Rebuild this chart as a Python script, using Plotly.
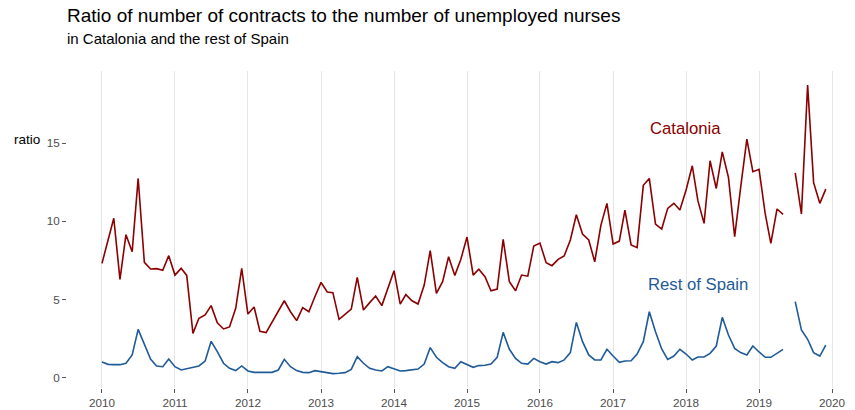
import plotly.graph_objects as go

years = [2010, 2011, 2012, 2013, 2014, 2015, 2016, 2017, 2018, 2019]
months = list(range(1, 13))
dates = [f"{y}-{m:02d}-01" for y in years for m in months]

catalonia = [
    7.32, 8.8, 10.2, 6.3, 9.15, 8.06, 12.74, 7.38, 6.96, 6.98, 6.87, 7.81,
    6.57, 7.0, 6.55, 2.85, 3.81, 4.02, 4.62, 3.53, 3.13, 3.26, 4.45, 7.0,
    4.08, 4.53, 2.98, 2.9, 3.6, 4.23, 4.93, 4.23, 3.66, 4.49, 4.23, 5.19,
    6.1, 5.49, 5.45, 3.74, 4.08, 4.4, 6.42, 4.34, 4.81, 5.23, 4.62, 5.72,
    6.85, 4.72, 5.32, 4.93, 4.72, 5.93, 8.13, 5.4, 6.15, 7.74, 6.55, 7.57,
    9.0, 6.57, 6.94, 6.47, 5.57, 5.68, 8.85, 6.15, 5.57, 6.57, 6.5, 8.42,
    8.61, 7.36, 7.17, 7.57, 7.79, 8.81, 10.42, 9.19, 8.81, 7.42, 9.76, 11.15,
    8.55, 8.74, 10.72, 8.49, 8.32, 12.3, 12.74, 9.83, 9.51, 10.83, 11.15, 10.72,
    12.0, 13.55, 11.32, 9.87, 13.87, 12.1, 14.44, 12.8, 9.02, 12.17, 15.25, 13.17,
    13.32, 10.47, 8.6, 10.79, 10.45, None, 13.1, 10.47, 18.7, 12.47, 11.15, 12.06,
]

rest_of_spain = [
    1.02, 0.87, 0.85, 0.85, 0.94, 1.47, 3.1, 2.1, 1.21, 0.77, 0.72, 1.21,
    0.72, 0.51, 0.6, 0.68, 0.77, 1.08, 2.34, 1.68, 0.94, 0.62, 0.47, 0.77,
    0.45, 0.36, 0.36, 0.36, 0.36, 0.51, 1.19, 0.72, 0.47, 0.36, 0.34, 0.47,
    0.4, 0.3, 0.28, 0.3, 0.34, 0.55, 1.36, 0.94, 0.62, 0.51, 0.45, 0.72,
    0.57, 0.45, 0.47, 0.51, 0.57, 0.89, 1.94, 1.32, 0.98, 0.72, 0.62, 1.04,
    0.87, 0.68, 0.79, 0.81, 0.89, 1.32, 2.91, 1.83, 1.25, 0.94, 0.89, 1.25,
    1.04, 0.89, 1.04, 0.98, 1.15, 1.62, 3.55, 2.32, 1.47, 1.15, 1.15, 1.83,
    1.4, 1.0, 1.08, 1.1, 1.53, 2.32, 4.23, 2.95, 1.85, 1.19, 1.4, 1.83,
    1.53, 1.15, 1.34, 1.34, 1.57, 2.04, 3.87, 2.74, 1.89, 1.62, 1.47, 2.04,
    1.66, 1.32, 1.32, 1.57, 1.83, None, 4.87, 3.06, 2.47, 1.62, 1.4, 2.1,
]

tick_vals = [f"{y}-01-01" for y in range(2010, 2021)]
tick_text = [str(y) for y in range(2010, 2021)]

RED = "#8b0000"
BLUE = "#1f5a99"
FONT = "Liberation Sans, Arial, sans-serif"

fig = go.Figure()
fig.add_trace(go.Scatter(x=dates, y=catalonia, mode="lines", name="Catalonia",
                         line=dict(color=RED, width=1.6), connectgaps=False))
fig.add_trace(go.Scatter(x=dates, y=rest_of_spain, mode="lines", name="Rest of Spain",
                         line=dict(color=BLUE, width=1.6), connectgaps=False))

W, H = 855, 410
ML, MR, MT, MB = 67, 0, 71, 22
PW = W - ML - MR
PH = H - MT - MB

def px(page_x):
    return (page_x - ML) / PW

def py(page_y):
    return (H - MB - page_y) / PH

fig.update_layout(
    width=W, height=H,
    margin=dict(l=ML, r=MR, t=MT, b=MB, autoexpand=False),
    paper_bgcolor="white", plot_bgcolor="white",
    showlegend=False,
    font=dict(family=FONT, color="#4d4d4d", size=11.7),
    xaxis=dict(
        type="date", automargin=False,
        range=["2009-07-10", "2020-04-25"],
        tickvals=tick_vals, ticktext=tick_text,
        showgrid=True, gridcolor="#e6e6e6", gridwidth=1,
        zeroline=False, showline=False,
        ticks="outside", ticklen=4, tickcolor="#555555", tickwidth=1,
        tickfont=dict(size=11.7, color="#4d4d4d"),
    ),
    yaxis=dict(
        automargin=False,
        range=[-0.64, 19.6],
        tickvals=[0, 5, 10, 15], ticktext=["0", "5", "10", "15"],
        showgrid=False, zeroline=False, showline=False,
        ticks="outside", ticklen=4, tickcolor="#555555", tickwidth=1,
        tickfont=dict(size=11.7, color="#4d4d4d"),
    ),
)

# titles
fig.add_annotation(text="Ratio of number of contracts to the number of unemployed nurses",
                   xref="paper", yref="paper", x=px(65), y=py(15.5),
                   xanchor="left", yanchor="middle", showarrow=False,
                   font=dict(family=FONT, size=19, color="black"))
fig.add_annotation(text="in Catalonia and the rest of Spain",
                   xref="paper", yref="paper", x=px(65), y=py(39),
                   xanchor="left", yanchor="middle", showarrow=False,
                   font=dict(family=FONT, size=15, color="black"))
# y axis title
fig.add_annotation(text="ratio", xref="paper", yref="y", x=px(12), y=15.25,
                   xanchor="left", yanchor="middle", showarrow=False,
                   font=dict(family=FONT, size=13.5, color="black"))
# series labels
fig.add_annotation(text="Catalonia", x="2017-12-28", y=15.9, showarrow=False,
                   xanchor="center", yanchor="middle",
                   font=dict(family=FONT, size=16.7, color=RED))
fig.add_annotation(text="Rest of Spain", x="2018-03-01", y=5.95, showarrow=False,
                   xanchor="center", yanchor="middle",
                   font=dict(family=FONT, size=16.7, color=BLUE))

# remove the browser's default 8px body margin so the figure sits at the page corner
fig.write_html("out.html", config={"displayModeBar": False},
               post_script="document.body.style.margin='0px';")
